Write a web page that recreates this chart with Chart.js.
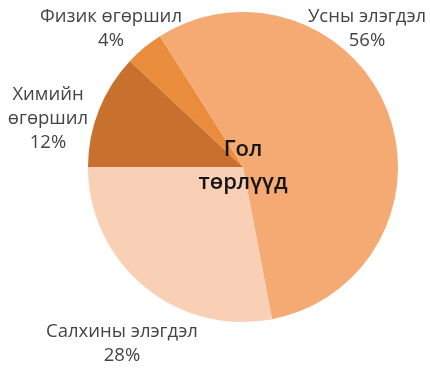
<!DOCTYPE html>
<html>
<head>
<meta charset="utf-8">
<script src="https://cdn.jsdelivr.net/npm/chart.js@4/dist/chart.umd.min.js"></script>
<style>
  html, body { margin: 0; padding: 0; background: #fff; }
  #wrap { position: relative; width: 430px; height: 369px; }
</style>
</head>
<body>
<div id="wrap"><canvas id="graphique"></canvas></div>
<script>
const categories = ['Химийн өгөршил', 'Физик өгөршил', 'Усны элэгдэл', 'Салхины элэгдэл'];
const valeurs    = [12, 4, 56, 28];
const couleurs   = ['#c8712e', '#e98d3c', '#f4aa72', '#f9cfb6'];
const titreCentre = ['Гол', 'төрлүүд'];

// Etiquettes : lignes de texte et position d ancrage
const etiquettes = [
    { lignes: ['Химийн', 'өгөршил', '12%'], x: 48,  y: 95 },
    { lignes: ['Физик өгөршил', '4%'],       x: 111, y: 17 },
    { lignes: ['Усны элэгдэл', '56%'],       x: 367, y: 17 },
    { lignes: ['Салхины элэгдэл', '28%'],    x: 122, y: 332 }
];

const pluginTextes = {
    id: 'textes',
    afterDraw(chart) {
        const ctx = chart.ctx;
        ctx.save();
        ctx.textAlign = 'center';
        ctx.textBaseline = 'middle';
        ctx.fillStyle = '#444444';
        ctx.font = '18.5px "Open Sans", sans-serif';
        etiquettes.forEach(e => {
            e.lignes.forEach((l, i) => ctx.fillText(l, e.x, e.y + i * 24));
        });
        // titre au centre du camembert
        const arc = chart.getDatasetMeta(0).data[0];
        ctx.fillStyle = '#151515';
        ctx.font = '600 22px "Open Sans", sans-serif';
        ctx.fillText(titreCentre[0], arc.x, arc.y - 17);
        ctx.fillText(titreCentre[1], arc.x, arc.y + 16);
        ctx.restore();
    }
};

new Chart(document.getElementById('graphique').getContext('2d'), {
    type: 'pie',
    data: {
        labels: categories,
        datasets: [{
            data: valeurs,
            backgroundColor: couleurs,
            borderWidth: 0
        }]
    },
    options: {
        animation: false,
        responsive: true,
        maintainAspectRatio: false,
        rotation: 270,
        layout: { padding: { left: 88, right: 32, top: 12, bottom: 47 } },
        plugins: {
            legend: { display: false },
            tooltip: { enabled: false }
        }
    },
    plugins: [pluginTextes]
});
</script>
</body>
</html>
